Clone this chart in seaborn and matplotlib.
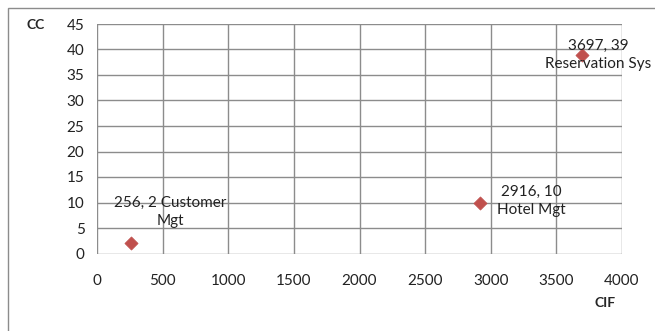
import matplotlib
matplotlib.use("Agg")
import matplotlib.pyplot as plt
import seaborn as sns
import pandas as pd
from matplotlib.patches import Rectangle

names = ["Customer Mgt", "Hotel Mgt", "Reservation Sys"]
cif = [256, 2916, 3697]
cc = [2, 10, 39]
labels = ["256, 2 Customer\nMgt", "2916, 10\nHotel Mgt", "3697, 39\nReservation Sys"]
xticks = [0, 500, 1000, 1500, 2000, 2500, 3000, 3500, 4000]
yticks = [0, 5, 10, 15, 20, 25, 30, 35, 40, 45]

df = pd.DataFrame({"CIF": cif, "CC": cc, "name": names})

sns.set_theme(style="white")
plt.rcParams['font.family'] = ['Lato', 'DejaVu Sans']

fig = plt.figure(figsize=(6.55, 3.31), dpi=100)
ax = fig.add_axes([97/655, 1-253.5/331, 525/655, 229.5/331])

gray = "#8c8c8c"
sns.scatterplot(data=df, x="CIF", y="CC", ax=ax, marker="D", s=45,
                color="#c0504d", edgecolor="#c0504d", linewidth=0.5, zorder=3, legend=False)

ax.set_xlim(0, 4000)
ax.set_ylim(0, 45)
ax.set_xticks(xticks)
ax.set_yticks(yticks)
ax.set_xticklabels([str(v) for v in xticks], fontsize=11, color="#222222")
ax.set_yticklabels([str(v) for v in yticks], fontsize=11, color="#222222")
ax.grid(True, color=gray, linewidth=1)
ax.set_axisbelow(True)
for s in ax.spines.values():
    s.set_visible(False)
ax.tick_params(axis="both", length=4, width=1, color=gray, direction="out")
ax.tick_params(axis="x", pad=11)
ax.tick_params(axis="y", pad=5)
ax.set_xlabel("")
ax.set_ylabel("")

offsets = [(40, 31), (52, 1.5), (16, 0)]
for x, y, t, (dx, dy) in zip(cif, cc, labels, offsets):
    ax.annotate(t, (x, y), xytext=(dx, dy), textcoords="offset pixels",
                ha="center", va="center", fontsize=11, color="#222222",
                linespacing=1.35, annotation_clip=False)

fig.text(36/655, 1-25/331, "CC", fontsize=10, fontweight="bold", ha="center", va="center")
fig.text(605/655, 1-303/331, "CIF", fontsize=10, fontweight="bold", ha="center", va="center")

fig.patches.append(Rectangle((7.5/655, -0.1), 1.2, 1 - 7.5/331 + 0.1, transform=fig.transFigure,
                             fill=False, edgecolor=gray, linewidth=1))

fig.savefig("out.png", dpi=100)
